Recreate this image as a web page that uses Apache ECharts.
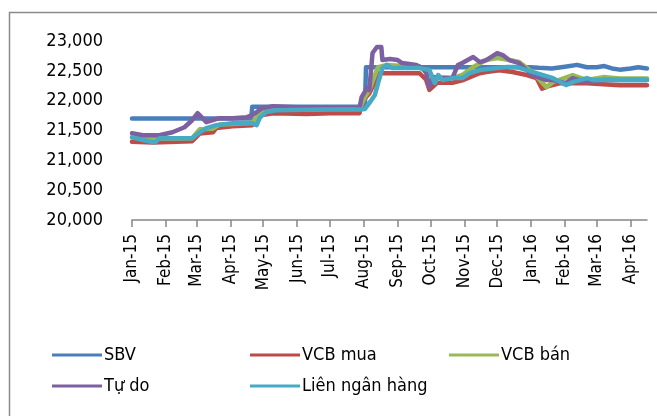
<!DOCTYPE html>
<html>
<head>
<meta charset="utf-8">
<script src="https://cdn.jsdelivr.net/npm/echarts@6/dist/echarts.min.js"></script>
<style>
  html, body { margin: 0; padding: 0; background: #fff; }
  #chart { width: 657px; height: 416px; }
</style>
</head>
<body>
<div id="chart"></div>
<script>
// ---- Data ----
const seriesNames = ['SBV', 'VCB mua', 'VCB bán', 'Tự do', 'Liên ngân hàng'];

const monthStarts = ['2015-01-01','2015-02-01','2015-03-01','2015-04-01','2015-05-01','2015-06-01',
  '2015-07-01','2015-08-01','2015-09-01','2015-10-01','2015-11-01','2015-12-01',
  '2016-01-01','2016-02-01','2016-03-01','2016-04-01'];
const monthLabels = ['Jan-15','Feb-15','Mar-15','Apr-15','May-15','Jun-15','Jul-15','Aug-15',
  'Sep-15','Oct-15','Nov-15','Dec-15','Jan-16','Feb-16','Mar-16','Apr-16'];
const yTicks = [20000, 20500, 21000, 21500, 22000, 22500, 23000];

const sbv = [
  ['2015-01-01',21700],['2015-04-20',21700],['2015-04-21',21900],['2015-08-02',21900],
  ['2015-08-03',22560],['2015-12-31',22560],['2016-01-08',22550],['2016-01-20',22540],
  ['2016-02-01',22570],['2016-02-12',22600],['2016-02-21',22560],['2016-03-01',22560],
  ['2016-03-08',22580],['2016-03-15',22540],['2016-03-22',22520],['2016-04-01',22540],
  ['2016-04-08',22560],['2016-04-16',22540]
];
const vcbMua = [
  ['2015-01-01',21310],['2015-01-20',21300],['2015-02-25',21320],['2015-03-04',21450],
  ['2015-03-16',21470],['2015-03-19',21540],['2015-04-03',21570],['2015-04-21',21590],
  ['2015-04-30',21760],['2015-05-10',21790],['2015-06-10',21775],['2015-07-01',21790],
  ['2015-07-28',21790],['2015-07-31',22000],['2015-08-06',22120],['2015-08-15',22460],
  ['2015-08-22',22460],['2015-09-21',22460],['2015-09-27',22350],['2015-09-30',22180],
  ['2015-10-07',22300],['2015-10-21',22300],['2015-10-30',22340],['2015-11-15',22460],
  ['2015-11-21',22480],['2015-12-03',22510],['2015-12-15',22480],['2015-12-28',22430],
  ['2016-01-06',22380],['2016-01-11',22200],['2016-01-18',22250],['2016-01-27',22290],
  ['2016-02-21',22290],['2016-03-22',22260],['2016-04-16',22260]
];
const vcbBan = [
  ['2015-01-01',21380],['2015-01-20',21360],['2015-02-25',21370],['2015-03-04',21520],
  ['2015-03-16',21530],['2015-03-22',21600],['2015-04-03',21610],['2015-04-21',21630],
  ['2015-04-30',21830],['2015-05-10',21860],['2015-07-28',21860],['2015-08-02',22060],
  ['2015-08-06',22177],['2015-08-14',22563],['2015-08-22',22597],['2015-09-21',22563],
  ['2015-09-27',22480],['2015-10-03',22395],['2015-10-21',22378],['2015-10-30',22430],
  ['2015-11-09',22563],['2015-11-21',22681],['2015-12-01',22714],['2015-12-12',22681],
  ['2015-12-21',22647],['2016-01-02',22480],['2016-01-09',22345],['2016-01-15',22227],
  ['2016-01-21',22311],['2016-02-08',22429],['2016-02-21',22345],['2016-03-07',22395],
  ['2016-03-22',22370],['2016-04-16',22370]
];
const tuDo = [
  ['2015-01-01',21454],['2015-01-11',21420],['2015-01-26',21420],['2015-02-07',21471],
  ['2015-02-18',21555],['2015-02-25',21672],['2015-03-02',21790],['2015-03-10',21640],
  ['2015-03-22',21706],['2015-04-03',21706],['2015-04-16',21723],['2015-04-21',21756],
  ['2015-04-30',21874],['2015-05-10',21908],['2015-06-22',21874],['2015-07-28',21874],
  ['2015-07-30',22059],['2015-08-04',22210],['2015-08-06',22177],['2015-08-09',22798],
  ['2015-08-13',22899],['2015-08-17',22899],['2015-08-18',22681],['2015-08-25',22698],
  ['2015-09-01',22681],['2015-09-05',22630],['2015-09-18',22597],['2015-09-24',22546],
  ['2015-09-27',22462],['2015-09-30',22227],['2015-10-03',22395],['2015-10-12',22378],
  ['2015-10-21',22378],['2015-10-26',22597],['2015-10-30',22630],['2015-11-09',22731],
  ['2015-11-15',22647],['2015-11-21',22681],['2015-12-01',22798],['2015-12-06',22765],
  ['2015-12-12',22681],['2015-12-21',22630],['2015-12-28',22513],['2016-01-02',22429],
  ['2016-01-15',22345],['2016-01-21',22345],['2016-02-02',22294],['2016-02-08',22378],
  ['2016-02-21',22311],['2016-03-07',22345],['2016-03-16',22345],['2016-04-16',22345]
];
const lienNH = [
  ['2015-01-01',21390],['2015-01-11',21340],['2015-01-22',21300],['2015-01-26',21370],
  ['2015-02-25',21370],['2015-03-04',21470],['2015-03-10',21540],['2015-03-19',21590],
  ['2015-04-03',21620],['2015-04-21',21620],['2015-04-25',21590],['2015-04-28',21720],
  ['2015-05-04',21810],['2015-05-13',21840],['2015-06-22',21850],['2015-07-28',21850],
  ['2015-08-02',21860],['2015-08-06',21960],['2015-08-11',22090],['2015-08-14',22290],
  ['2015-08-18',22550],['2015-08-22',22600],['2015-08-27',22546],['2015-09-21',22546],
  ['2015-09-30',22513],['2015-10-05',22294],['2015-10-08',22430],['2015-10-12',22345],
  ['2015-10-21',22378],['2015-10-30',22378],['2015-11-06',22462],['2015-11-15',22513],
  ['2015-12-01',22546],['2015-12-10',22563],['2015-12-19',22563],['2015-12-28',22513],
  ['2016-01-06',22462],['2016-01-21',22378],['2016-02-02',22261],['2016-02-08',22311],
  ['2016-02-21',22378],['2016-02-27',22345],['2016-03-16',22345],['2016-04-16',22345]
];
const xMin = '2015-01-01';
const xMax = '2016-04-16';

// ---- Daily category axis built from the date range ----
function buildDays(a, b) {
  const out = [];
  const d = new Date(a + 'T00:00:00Z');
  const end = new Date(b + 'T00:00:00Z');
  while (d <= end) {
    out.push(d.toISOString().slice(0, 10));
    d.setUTCDate(d.getUTCDate() + 1);
  }
  return out;
}
const days = buildDays(xMin, xMax);
const isMonthStart = (idx, val) => monthStarts.indexOf(val) >= 0;

// ---- Styling ----
const colors = ['#4A7EBB', '#BE4B48', '#98B954', '#7D60A0', '#46AAC5'];
const FONT = "'DejaVu Sans Condensed', 'Liberation Sans', sans-serif";
const axisGray = '#868686';

const chart = echarts.init(document.getElementById('chart'), null, { renderer: 'canvas' });

function lineSeries(name, data, color) {
  return {
    name, type: 'line', data, showSymbol: false, symbol: 'none',
    lineStyle: { color, width: 4.5, join: 'round', cap: 'round' },
    itemStyle: { color }, animation: false
  };
}

// Legend drawn as key entries (thin line + real text), laid out like the reference
const legendPos = [[52, 355], [250, 355], [449, 355], [52, 386], [250, 386]];
const legendGraphics = [];
seriesNames.forEach((n, i) => {
  const [lx, ly] = legendPos[i];
  legendGraphics.push({
    type: 'rect', silent: true,
    shape: { x: lx, y: ly - 1.5, width: 50, height: 3 },
    style: { fill: colors[i] }
  });
  legendGraphics.push({
    type: 'text', silent: true, x: lx + 52, y: ly,
    style: { text: n, fill: '#000', font: "18px " + FONT, verticalAlign: 'middle', align: 'left' }
  });
});

const option = {
  animation: false,
  color: colors,
  textStyle: { fontFamily: FONT, color: '#000' },
  grid: { left: 132, right: 10, top: 41, bottom: 196, containLabel: false },
  xAxis: {
    type: 'category',
    data: days,
    boundaryGap: false,
    axisLine: { show: true, lineStyle: { color: axisGray, width: 1.5 } },
    axisTick: { show: true, interval: isMonthStart, length: 7, lineStyle: { color: axisGray, width: 1.5 } },
    axisLabel: {
      interval: isMonthStart, rotate: 90, fontSize: 17, color: '#000', margin: 14, fontFamily: FONT,
      formatter: v => monthLabels[monthStarts.indexOf(v)]
    },
    splitLine: { show: false }
  },
  yAxis: {
    type: 'value',
    min: yTicks[0], max: yTicks[yTicks.length - 1], interval: 500,
    axisLine: { show: false }, axisTick: { show: false }, splitLine: { show: false },
    axisLabel: {
      fontSize: 18, color: '#000', margin: 29, fontFamily: FONT,
      formatter: v => v.toLocaleString('en-US')
    }
  },
  graphic: [{
    type: 'rect', silent: true, z: -1,
    shape: { x: 9.5, y: 12.5, width: 700, height: 500 },
    style: { fill: 'none', stroke: '#8a8a8a', lineWidth: 1.5 }
  }].concat(legendGraphics),
  series: [
    lineSeries(seriesNames[0], sbv, colors[0]),
    lineSeries(seriesNames[1], vcbMua, colors[1]),
    lineSeries(seriesNames[2], vcbBan, colors[2]),
    lineSeries(seriesNames[3], tuDo, colors[3]),
    lineSeries(seriesNames[4], lienNH, colors[4])
  ]
};
chart.setOption(option);
</script>
</body>
</html>
